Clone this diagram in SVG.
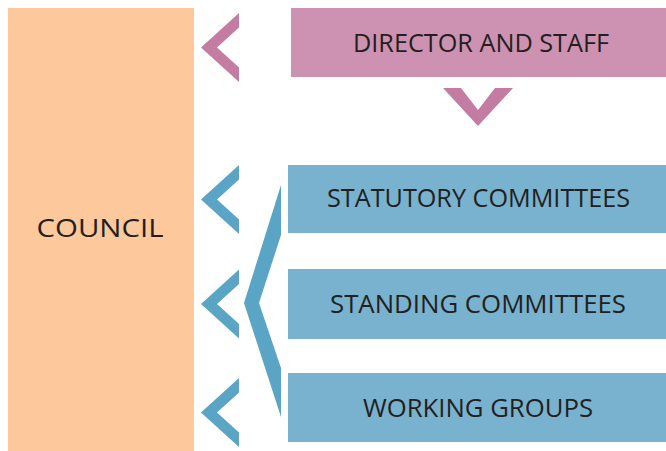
<svg xmlns="http://www.w3.org/2000/svg" width="666" height="451" viewBox="0 0 666 451">
  <defs>
    <style>
      .lbl { font-family: "Open Sans", "Noto Sans", "Liberation Sans", sans-serif; font-size: 26px; fill: #231f20; text-anchor: middle; }
      .council { fill: #fdc89c; }
      .staff { fill: #cd92b1; }
      .committee { fill: #78b2cf; }
      .pink-arrow { fill: #c47ca3; }
      .blue-arrow { fill: #5aa4c6; }
    </style>
    <!-- left-pointing chevron, tip at origin -->
    <polygon id="chev-left" points="38,-34.5 0,0 38,34.5 38,20 16,0 38,-20"/>
  </defs>

  <rect width="666" height="451" fill="#ffffff"/>

  <g id="council">
    <rect class="council" x="8" y="8" width="186" height="443"/>
    <text class="lbl" x="100" y="237" textLength="127" lengthAdjust="spacingAndGlyphs">COUNCIL</text>
  </g>

  <g id="director-and-staff">
    <rect class="staff" x="291" y="8" width="375" height="69"/>
    <text class="lbl" x="481" y="52" textLength="256" lengthAdjust="spacingAndGlyphs">DIRECTOR AND STAFF</text>
  </g>

  <g id="statutory-committees">
    <rect class="committee" x="288" y="165" width="378" height="68"/>
    <text class="lbl" x="478.5" y="207" textLength="303" lengthAdjust="spacingAndGlyphs">STATUTORY COMMITTEES</text>
  </g>

  <g id="standing-committees">
    <rect class="committee" x="288" y="269" width="378" height="70"/>
    <text class="lbl" x="478" y="313" textLength="296" lengthAdjust="spacingAndGlyphs">STANDING COMMITTEES</text>
  </g>

  <g id="working-groups">
    <rect class="committee" x="288" y="373" width="378" height="69"/>
    <text class="lbl" x="478" y="417" textLength="230" lengthAdjust="spacingAndGlyphs">WORKING GROUPS</text>
  </g>

  <g id="connectors">
    <!-- staff reports to council -->
    <use href="#chev-left" class="pink-arrow" transform="translate(201,47.5)"/>
    <!-- staff serves the committees below -->
    <polygon class="pink-arrow" points="443,88 478,126 513,88 495,88 478,110 461,88"/>
    <!-- committees report to council -->
    <use href="#chev-left" class="blue-arrow" transform="translate(201,199.5)"/>
    <use href="#chev-left" class="blue-arrow" transform="translate(201,304)"/>
    <use href="#chev-left" class="blue-arrow" transform="translate(201,412.5)"/>
    <!-- brace grouping the three committee boxes -->
    <polygon class="blue-arrow" points="281,185 281,235 259,303 281,368 281,417 244,303"/>
  </g>
</svg>
